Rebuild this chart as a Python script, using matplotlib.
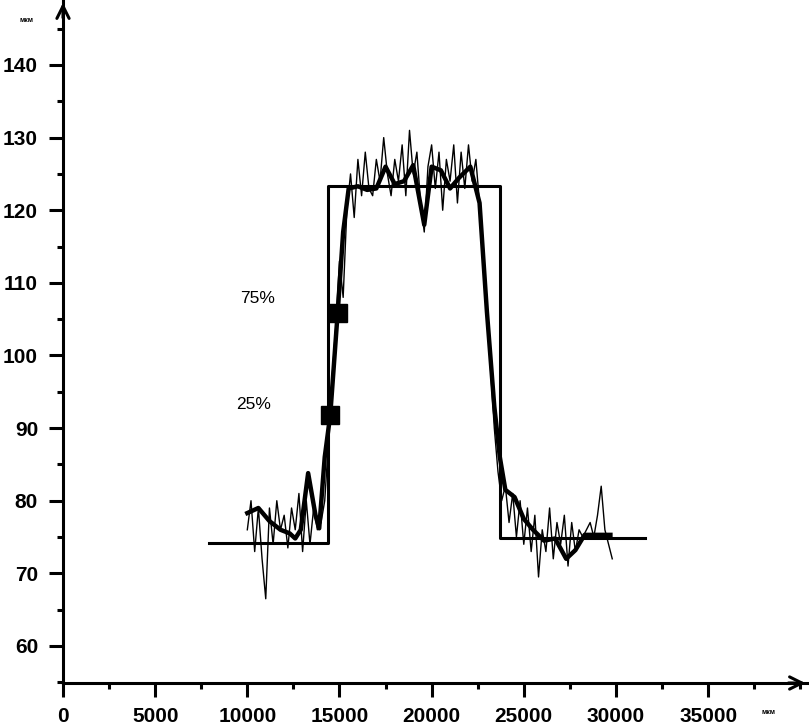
import numpy as np
import matplotlib
matplotlib.use("Agg")
import matplotlib.pyplot as plt
from matplotlib.ticker import MultipleLocator

plt.rcParams['font.family'] = ['Liberation Sans', 'DejaVu Sans']

# Ideal rectangular profile
step_x = [7900, 14380, 14380, 23700, 23700, 31600]
step_y = [74.2, 74.2, 123.3, 123.3, 74.85, 74.85]

# Raw noisy measurement (sampled every 200 units from 10000)
raw_x0, raw_dx = 10000, 200
raw_y = [76, 80, 73, 79, 72, 66.5, 79, 74, 80, 76,
         78, 73.5, 79, 76, 81, 73, 80, 74, 79, 76,
         77, 80, 88, 97, 104, 113, 108, 120, 125, 119,
         127, 122, 128, 123, 122, 127, 124, 130, 125, 122,
         127, 124, 129, 122, 131, 125, 128, 121, 117, 126,
         129, 123, 128, 120, 127, 124, 129, 121, 128, 123,
         129, 124, 127, 121, 115, 107, 98, 90, 84, 80,
         82, 77, 81, 75, 80, 74, 79, 73, 78, 69.5,
         76, 73, 79, 72, 77, 74, 78, 71, 77, 73,
         76, 75, 76, 77, 75, 78, 82, 76, 74, 72]
raw_x = raw_x0 + raw_dx * np.arange(len(raw_y))

# Smoothed curve
smooth_x = [10000, 10600, 11200, 11800, 12300, 12600, 12900, 13300, 13700, 13900,
            14200, 14500, 14900, 15200, 15500, 16000, 16500, 17000, 17500, 18000,
            18500, 19000, 19600, 20000, 20500, 21000, 21500, 22100, 22600, 23000,
            23400, 23700, 24000, 24500, 25000, 25500, 26100, 26700, 27300, 27800,
            28300, 29700]
smooth_y = [78.3, 79, 77.2, 76, 75.5, 74.8, 76, 83.8, 78, 76.2,
            86, 91.8, 105.8, 117, 123, 123.3, 122.8, 123, 126, 123.6,
            124, 126.2, 118, 126, 125.5, 123, 124.5, 126, 121, 106,
            93, 86, 81.5, 80.5, 77.5, 76, 74.5, 74.8, 72, 73.2,
            75.3, 75.3]

# 25% / 75% level markers
mark_x = [14490, 14920]
mark_y = [91.8, 105.8]
mark_labels = ["25%", "75%"]
label_pos = [(10360, 93.3), (10580, 107.9)]

fig = plt.figure(figsize=(8.09, 7.26), dpi=100)
ax = fig.add_axes([63/809, 43/726, 745/809, 683/726])

ax.plot(raw_x, raw_y, color='black', lw=1.0)
ax.plot(smooth_x, smooth_y, color='black', lw=3.2)
ax.plot(step_x, step_y, color='black', lw=2.2)
ax.plot(mark_x, mark_y, 's', color='black', ms=12.5)
for (lx, ly), t in zip(label_pos, mark_labels):
    ax.text(lx, ly, t, fontsize=12.5, ha='center', va='center')

ax.set_xlim(0, 40420)
ax.set_ylim(54.9, 148.95)
ax.xaxis.set_minor_locator(MultipleLocator(2500))
ax.yaxis.set_minor_locator(MultipleLocator(5))
ax.set_xticks(np.arange(0, 35001, 5000))
ax.set_yticks(np.arange(60, 141, 10))

for s in ['top', 'right']:
    ax.spines[s].set_visible(False)
for s in ['left', 'bottom']:
    ax.spines[s].set_linewidth(2.2)
ax.tick_params(which='major', direction='out', length=10, width=2.2, labelsize=15)
ax.tick_params(which='minor', direction='out', length=4, width=2.2)
ax.tick_params(axis='x', which='major', pad=7)
ax.tick_params(axis='y', which='major', pad=8)
for lab in ax.get_xticklabels() + ax.get_yticklabels():
    lab.set_fontweight('bold')

ax.annotate('', xy=(1.0, 0), xytext=(0.97, 0), xycoords='axes fraction',
            arrowprops=dict(arrowstyle='->', lw=2.2, color='black', mutation_scale=22),
            annotation_clip=False)
ax.annotate('', xy=(0, 1.0), xytext=(0, 0.97), xycoords='axes fraction',
            arrowprops=dict(arrowstyle='->', lw=2.2, color='black', mutation_scale=22),
            annotation_clip=False)

fig.text(26/809, 1 - 20/726, 'мкм', fontsize=5, fontweight='bold', ha='center', va='center')
fig.text(768/809, 1 - 712/726, 'мкм', fontsize=5, fontweight='bold', ha='center', va='center')

fig.savefig('out.png', dpi=100)
